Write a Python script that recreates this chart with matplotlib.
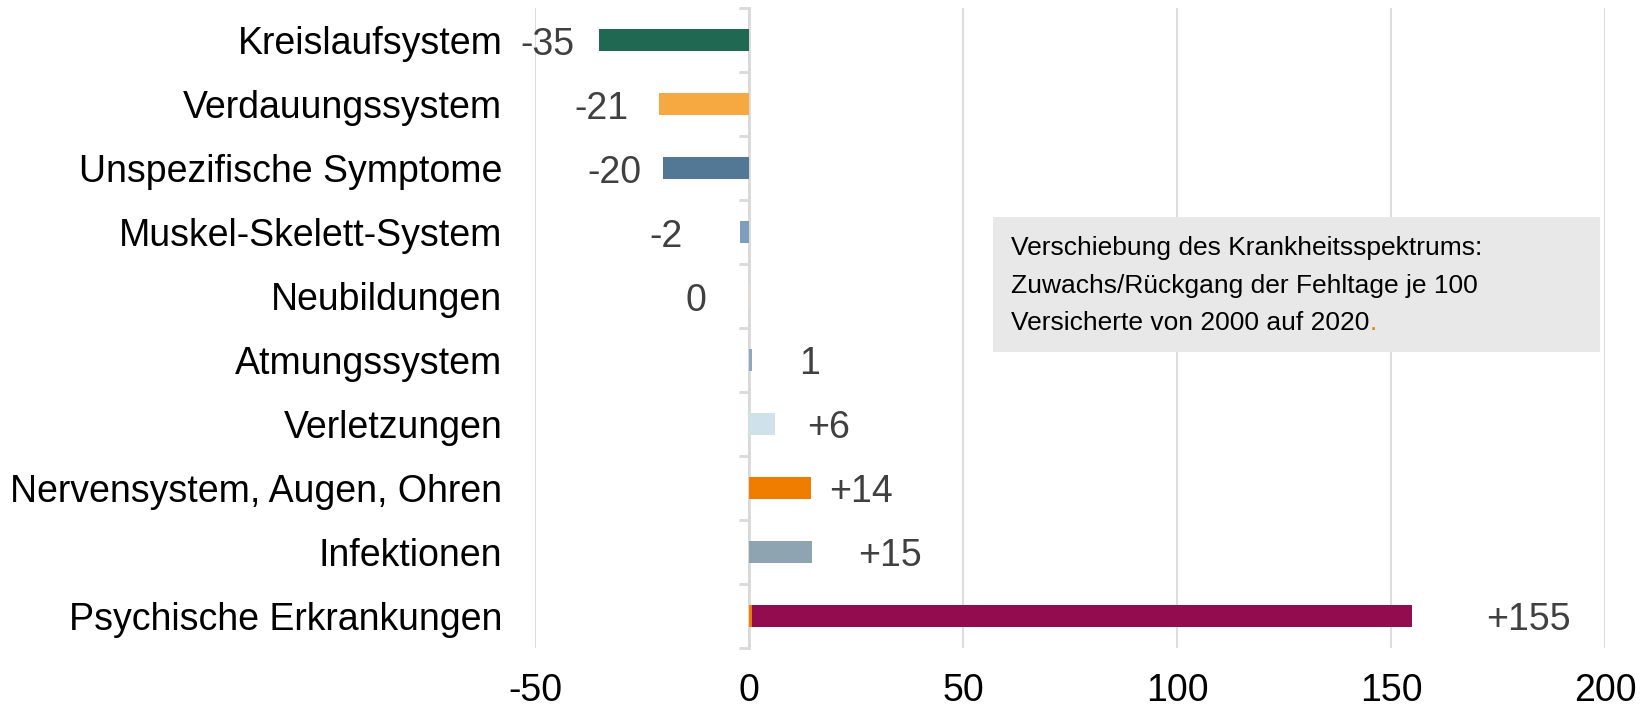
import matplotlib
matplotlib.use("Agg")
import matplotlib.pyplot as plt
from matplotlib.patches import Rectangle

plt.rcParams["font.family"] = ["Liberation Sans", "DejaVu Sans"]

categories = [
    "Kreislaufsystem",
    "Verdauungssystem",
    "Unspezifische Symptome",
    "Muskel-Skelett-System",
    "Neubildungen",
    "Atmungssystem",
    "Verletzungen",
    "Nervensystem, Augen, Ohren",
    "Infektionen",
    "Psychische Erkrankungen",
]
values = [-35, -21, -20, -2, 0.2, 0.7, 6, 14.5, 14.7, 155]
labels = ["-35", "-21", "-20", "-2", "0", "1", "+6", "+14", "+15", "+155"]
colors = ["#216852", "#F5A940", "#527896", "#7F9EBD", "#F2D9CC",
          "#8FA7BF", "#CFE1EB", "#EF7D00", "#8EA4B1", "#920D4F"]
# small orange segment at the start of the last bar
psych_start = 0.8
psych_start_color = "#EF7D00"

xticks = [-50, 0, 50, 100, 150, 200]

# label centres in data units (manual Excel placement)
label_x = [-47, -34.4, -31.4, -19.4, -12.4, 14.2, 18.7, 26.2, 32.9, 182]

DARK = "#404040"
GRID = "#D9D9D9"
FS = 27

fig = plt.figure(figsize=(16.47, 7.10), dpi=100)
ax = fig.add_axes([0.3248, 0.0873, 0.6497, 0.9014])

ypos = list(range(len(categories)))
for i, (v, c) in enumerate(zip(values, colors)):
    if i == len(categories) - 1:
        ax.barh(i, psych_start, height=0.34, color=psych_start_color, zorder=3)
        ax.barh(i, v - psych_start, left=psych_start, height=0.34, color=c, zorder=3)
    else:
        ax.barh(i, v, height=0.34, color=c, zorder=3)

for i, (lx, t) in enumerate(zip(label_x, labels)):
    ax.text(lx, i + 0.07, t, ha="center", va="center", fontsize=FS, color=DARK)

ax.set_xlim(-50, 200)
ax.set_ylim(len(categories) - 0.5, -0.5)
ax.set_xticks(xticks)
ax.set_xticklabels([str(x) for x in xticks])
ax.set_yticks(ypos)
ax.set_yticklabels(categories)
ax.tick_params(axis="y", length=0, pad=23.5, labelsize=FS)
ax.tick_params(axis="x", length=0, pad=18, labelsize=FS)

for s in ax.spines.values():
    s.set_visible(False)
ax.grid(axis="x", color=GRID, lw=1.3, zorder=0)
ax.set_axisbelow(True)

# zero axis with category boundary ticks
sec = ax.secondary_yaxis(0.2)
sec.set_yticks([i - 0.5 for i in range(len(categories) + 1)])
sec.set_yticklabels([])
sec.tick_params(axis="y", length=7.5, width=2, color=GRID)
sec.spines["left"].set_color(GRID)
sec.spines["left"].set_linewidth(2)

# annotation box
ax.add_patch(Rectangle((57.0, 2.77), 141.8, 2.11, facecolor="#E8E8E8",
                       edgecolor="none", zorder=4))
box_lines = ["Verschiebung des Krankheitsspektrums:",
             "Zuwachs/Rückgang der Fehltage je 100",
             "Versicherte von 2000 auf 2020"]
line_y = [3.25, 3.85, 4.42]
for line, ly in zip(box_lines, line_y):
    t = ax.text(61.2, ly, line, ha="left", va="center",
                fontsize=19, color="black", zorder=5)
fig.canvas.draw()
bb = t.get_window_extent().transformed(ax.transData.inverted())
ax.text(bb.x1, line_y[-1], ".", ha="left", va="center", fontsize=19,
        color="#EF7D00", zorder=5)

fig.savefig("out.png", dpi=100)
